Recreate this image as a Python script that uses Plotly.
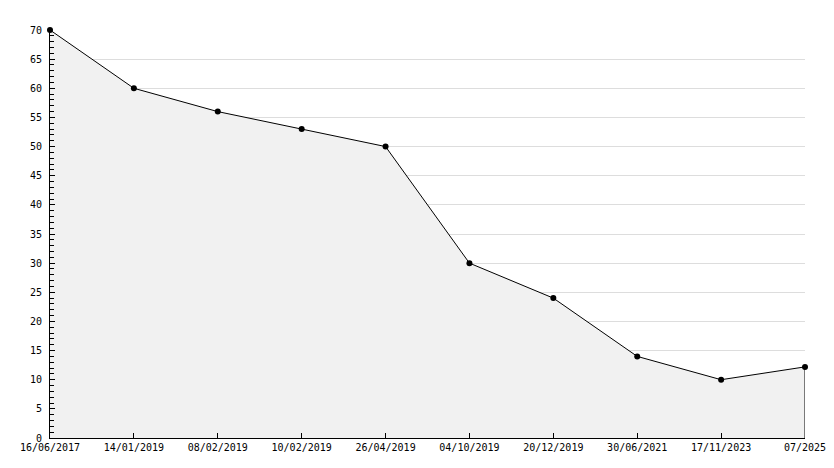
import plotly.graph_objects as go

dates = ["16/06/2017", "14/01/2019", "08/02/2019", "10/02/2019", "26/04/2019",
         "04/10/2019", "20/12/2019", "30/06/2021", "17/11/2023", "07/2025"]
values = [70, 60, 56, 53, 50, 30, 24, 14, 10, 12.2]
y_ticks = list(range(0, 71, 5))

idx = list(range(len(dates)))
FONT = "DejaVu Sans Mono"

fig = go.Figure()
fig.add_trace(go.Scatter(
    x=idx, y=values, mode="lines+markers", fill="tozeroy",
    fillcolor="#f1f1f1", cliponaxis=False,
    line=dict(color="black", width=1),
    marker=dict(color="black", size=6, symbol="circle"),
    hoverinfo="skip", showlegend=False,
))
fig.add_shape(type="line", xref="x", yref="y",
              x0=idx[-1], x1=idx[-1], y0=0, y1=values[-1],
              line=dict(color="black", width=1))

# page body has an 8px default margin; compensate in figure size/margins
fig.update_layout(
    width=826, height=460,
    margin=dict(l=42, r=29, t=22, b=30, autoexpand=False),
    paper_bgcolor="white", plot_bgcolor="white",
    font=dict(family=FONT, size=10, color="black"),
    xaxis=dict(
        range=[0, len(dates) - 1], tickmode="array", tickvals=idx, ticktext=dates,
        automargin=False,
        showgrid=False, zeroline=False, showline=True, linecolor="black", linewidth=1,
        ticks="inside", ticklen=5, tickcolor="black", tickfont=dict(family=FONT, size=10),
    ),
    yaxis=dict(
        range=[0, 70], tickmode="array", tickvals=y_ticks, automargin=False,
        showgrid=True, gridcolor="#dddddd", gridwidth=1, zeroline=False,
        showline=True, linecolor="black", linewidth=1,
        ticks="inside", ticklen=5, tickcolor="black", ticklabelstandoff=5,
        minor=dict(dtick=1, ticks="inside", ticklen=4, tickcolor="black", showgrid=False),
        tickfont=dict(family=FONT, size=10),
    ),
)
fig.write_html("out.html")
